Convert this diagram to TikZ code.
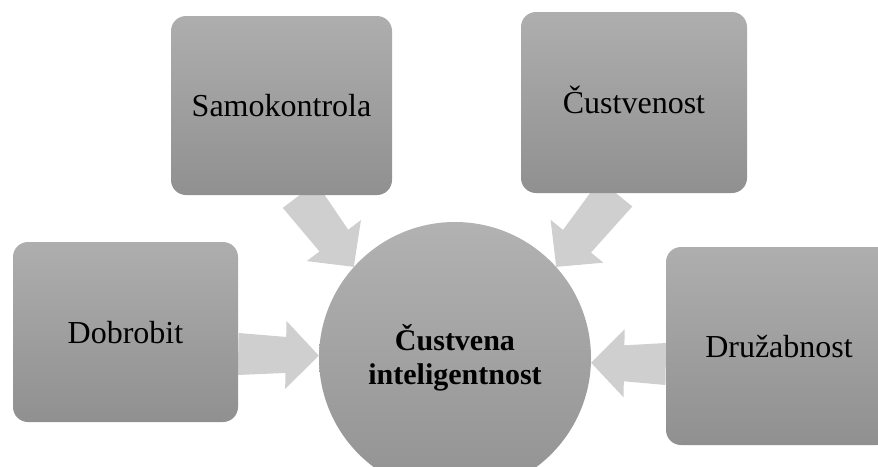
\documentclass[tikz,border=0pt]{standalone}
\usepackage{fontspec}
\setmainfont{Liberation Serif}
\usetikzlibrary{calc}
\pgfdeclarelayer{background}
\pgfsetlayers{background,main}
\definecolor{boxtop}{HTML}{AEAEAE}
\definecolor{boxbot}{HTML}{909090}
\definecolor{circtop}{HTML}{B2B2B2}
\definecolor{circbot}{HTML}{929292}
\definecolor{arrowgray}{HTML}{CFCFCF}
\newcommand\blockarrow[2]{%
  \coordinate (ba-h) at ($(#2)!33pt!(#1)$);
  \fill[arrowgray] ($(#1)!21pt!90:(#2)$) -- ($(ba-h)!18pt!90:(#2)$) -- ($(ba-h)!34pt!90:(#2)$) -- (#2) -- ($(ba-h)!34pt!-90:(#2)$) -- ($(ba-h)!18pt!-90:(#2)$) -- ($(#1)!21pt!-90:(#2)$) -- cycle;}
\begin{document}
\begin{tikzpicture}[x=1pt,y=-1pt,
  box/.style={rounded corners=15pt, top color=boxtop, bottom color=boxbot, inner sep=0pt,
    text height=22pt, text depth=0pt, font=\fontsize{32}{38}\selectfont},
  hub/.style={circle, top color=circtop, bottom color=circbot, minimum size=272pt, inner sep=0pt,
    align=center, font=\fontsize{30}{34}\selectfont\bfseries}]
\useasboundingbox (0,0) rectangle (878,466);
\begin{scope}
\clip (0,0) rectangle (878,466);
\node[box, minimum width=221pt, minimum height=179pt] (samo) at (281.5,105.5) {Samokontrola};
\node[box, minimum width=226pt, minimum height=181pt] (cust) at (634,102.5) {Čustvenost};
\node[box, minimum width=225pt, minimum height=180pt] (dobro) at (125.5,332) {Dobrobit};
\node[box, minimum width=226pt, minimum height=198pt] (druz) at (779,346) {Družabnost};
\node[hub] (ci) at (455,358) {Čustvena\\inteligentnost};
\end{scope}
\begin{pgfonlayer}{background}
\coordinate (a1s) at ($(samo.south)+(18,0)$);
\coordinate (a2s) at ($(cust.south)+(-18,0)$);
\coordinate (a3s) at ($(dobro.east)+(0,22)$);
\coordinate (a4s) at ($(druz.west)+(0,18)$);
\blockarrow{a1s}{ci.138}
\blockarrow{a2s}{ci.42}
\blockarrow{a3s}{ci.179}
\blockarrow{a4s}{ci.-2}
\end{pgfonlayer}
\end{tikzpicture}
\end{document}
